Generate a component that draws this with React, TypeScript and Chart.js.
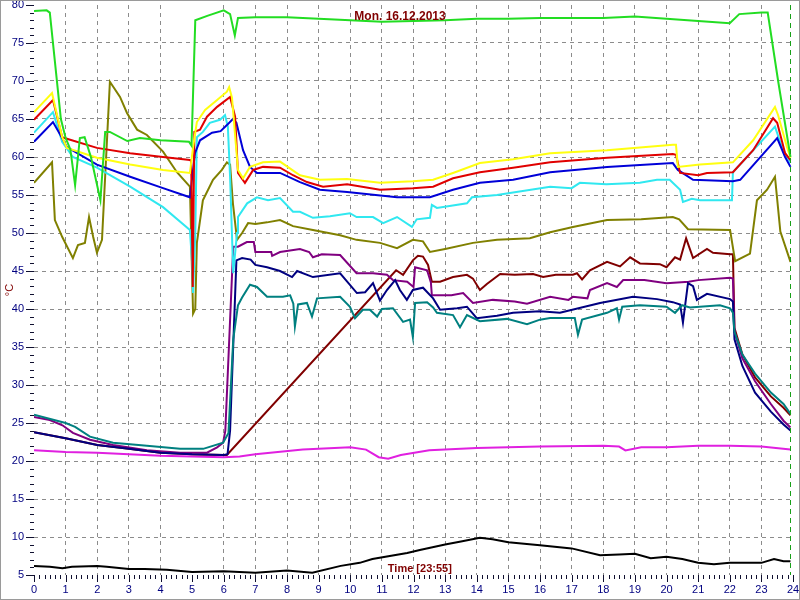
import React, { useEffect, useRef } from "react";
import { Chart, registerables } from "chart.js";

Chart.register(...registerables);

type P = [number, number];

const TITLE = "Mon. 16.12.2013";
const TIME_LABEL = "Time [23:55]";
const Y_LABEL = "°C";
const X_MIN = 0;
const X_MAX = 24;
const Y_MIN = 5;
const Y_MAX = 80;
const NOW_HOUR = 23.92;

const greenLine: P[] = [[0,79.2],[0.4,79.3],[0.5,79.0],[0.85,65],[1.0,62.5],[1.15,61],[1.3,56.3],[1.45,62.5],[1.6,62.6],[1.8,60],[2.1,54.3],[2.25,63.3],[2.4,63.3],[2.95,62.1],[3.35,62.5],[4.0,62.2],[4.9,62],[4.98,61.5],[5.1,78],[5.5,78.6],[6.0,79.3],[6.2,78.8],[6.35,76],[6.45,78.3],[7,78.4],[8,78.4],[9,78.2],[10,78],[11,77.8],[12,77.9],[13,78],[14,78.2],[15,78.2],[16,78.3],[17,78.3],[18,78.3],[19,78.5],[20,78.2],[21,77.9],[22,77.6],[22.3,78.8],[23,79],[23.2,79],[23.53,70],[23.92,60]];

const yellowLine: P[] = [[0,65.9],[0.57,68.4],[0.89,62.6],[1.04,61.2],[1.99,59.9],[3.04,59],[4.08,58.3],[4.93,57.9],[5.03,61.3],[5.15,64.6],[5.41,66.2],[5.79,67.5],[6.1,68.6],[6.17,69.2],[6.26,67.8],[6.45,58.3],[6.61,57.2],[6.83,58.7],[7.24,59.3],[7.78,59.4],[8.41,57.6],[9.04,57],[9.9,57.1],[10.94,56.6],[11.98,56.8],[12.62,57],[13.25,57.9],[14.1,59.2],[15.15,59.7],[16.32,60.5],[18.12,60.9],[20.2,61.6],[20.3,61.6],[20.36,58.7],[21.06,59],[22.1,59.3],[22.74,62.2],[23.43,66.6],[23.53,65.5],[23.81,61.3],[23.92,59.9]];

const redLine: P[] = [[0,64.9],[0.6,67.5],[0.89,62.6],[1.04,62.4],[1.99,61.2],[3.04,60.5],[4.08,60],[4.93,59.6],[4.97,59.5],[5.02,42.9],[5.07,63.3],[5.25,63.6],[5.47,65.3],[5.79,66.6],[6.2,67.9],[6.36,65.3],[6.45,57.9],[6.67,56.6],[6.93,58.3],[7.24,58.7],[7.78,58.6],[8.19,57.6],[8.63,56.7],[9.14,56.1],[9.9,56.4],[10.94,55.7],[11.98,55.9],[12.62,56.1],[13.25,57.2],[14.1,58],[15.15,58.6],[16.32,59.3],[18.12,59.9],[20.2,60.4],[20.3,60.3],[20.43,57.9],[21,57.6],[21.28,57.9],[22.1,58],[22.74,60.9],[23.37,65.1],[23.5,64.5],[23.75,60.5],[23.92,59.6]];

const cyanLine: P[] = [[0,63.2],[0.6,65.9],[0.89,62],[1.23,60],[1.99,58.6],[3.04,56.1],[4.08,53.4],[4.93,50.4],[5.0,46],[5.03,42.1],[5.1,50],[5.15,62.6],[5.34,63.3],[5.56,64.5],[5.88,64.9],[6.04,65.5],[6.13,64],[6.2,57.4],[6.3,44.7],[6.42,50],[6.45,52.1],[6.74,53.9],[7.05,54.7],[7.4,54.3],[7.78,54.6],[8.19,52.8],[8.41,52.8],[8.82,52],[9.36,52.2],[9.99,52.6],[10.2,52.1],[10.72,52.1],[11.04,51.3],[11.48,52.1],[11.95,50.8],[12.1,51.8],[12.52,52],[12.58,53.7],[12.74,53.3],[13.69,53.9],[13.85,54.7],[14.64,55],[16.32,56.1],[17.0,55.9],[17.26,56.6],[18.1,56.4],[19.16,56.6],[19.7,57],[20.1,57],[20.43,55.7],[20.52,54.1],[20.8,54.5],[21.06,54.3],[22.07,54.3],[22.1,58],[23.43,64],[23.65,61.3],[23.92,59.2]];

const blueLine: P[] = [[0,62],[0.6,64.6],[0.89,62.5],[1.04,61.3],[1.99,59],[3.04,57.4],[4.08,55.9],[4.93,54.7],[5.09,60.5],[5.25,62.2],[5.63,63.2],[5.9,63.4],[6.1,64.2],[6.29,65],[6.4,64.5],[6.61,60.9],[6.83,58.7],[7.05,57.9],[7.78,57.9],[8.41,56.7],[9.04,55.7],[9.9,55.4],[11.48,54.7],[12.52,54.7],[13.25,55.7],[14.1,56.6],[15.15,57],[16.32,58],[18.12,58.7],[20.2,59.2],[20.36,58.3],[20.84,57],[22.1,56.8],[22.33,57],[23.5,62.5],[23.75,60],[23.92,58.7]];

const oliveLine: P[] = [[0,56.6],[0.57,59.3],[0.66,51.7],[0.89,49.5],[1.23,46.7],[1.39,48.4],[1.61,48.7],[1.74,52.1],[1.87,49.5],[1.99,47.4],[2.15,49.1],[2.4,69.9],[2.72,67.9],[2.94,65.8],[3.26,63.6],[3.57,62.9],[4.08,60.7],[4.52,58],[4.93,56.1],[5.03,39.4],[5.1,40],[5.15,48.7],[5.34,54.3],[5.66,57],[5.94,58.3],[6.1,59.3],[6.2,59],[6.29,53.9],[6.42,49.1],[6.58,50],[6.77,51.3],[7.0,51.2],[7.37,51.4],[7.78,51.7],[8.19,50.9],[8.82,50.4],[9.68,49.7],[10.2,49.1],[10.94,48.7],[11.48,48],[11.98,49.1],[12.3,48.9],[12.52,47.5],[13.0,47.9],[13.88,48.7],[14.64,49.1],[15.68,49.3],[16.32,50.1],[17.04,50.8],[18.12,51.7],[19.2,51.8],[20.2,52.1],[20.4,51.8],[20.68,50.5],[22.01,50.4],[22.17,46.3],[22.64,47.3],[22.86,54.3],[23.18,55.7],[23.43,57.4],[23.6,50.2],[23.92,46.2]];

const tealLine: P[] = [[0,26.1],[1,25],[1.3,24.5],[1.77,23.2],[2.5,22.4],[3.57,22],[4.62,21.6],[5.35,21.6],[5.98,22.4],[6.15,23.7],[6.3,36],[6.45,40.5],[6.58,41.5],[6.83,43.2],[7.05,42.9],[7.37,41.6],[7.87,41.6],[8.1,41.8],[8.2,40.7],[8.25,37.7],[8.35,40.6],[8.63,40.8],[8.79,39],[8.95,41.4],[9.68,41.6],[9.99,40.3],[10.15,38.8],[10.4,39.9],[10.62,39.9],[10.85,39],[11.0,40],[11.35,40.1],[11.67,38.3],[11.89,38.6],[11.98,36.3],[12.05,40.8],[12.43,40.9],[12.62,40.2],[12.74,39.5],[13.25,39.2],[13.47,37.6],[13.69,39.2],[14.1,38.4],[14.96,38.7],[15.59,38],[16.0,38.6],[16.32,38.8],[17.1,38.8],[17.2,36.6],[17.33,38.6],[18.12,39.5],[18.43,40.1],[18.5,38.6],[18.6,40.3],[19.16,40.5],[20.0,40.3],[20.27,39.5],[20.49,40.5],[20.74,40.2],[21.69,40.5],[22.01,40.1],[22.1,39.5],[22.15,37],[22.4,34],[22.8,31.5],[23.3,29],[23.7,27.5],[23.92,26.2]];

const navyLine: P[] = [[0,23.8],[1,23],[2,22.1],[3,21.6],[4,21.1],[5,20.9],[6.0,20.8],[6.12,20.9],[6.2,24],[6.4,46.4],[6.58,46.7],[6.85,46.5],[7.0,45.8],[7.37,45.5],[7.78,45],[8.16,44.2],[8.32,45],[8.82,44.2],[9.68,44.7],[10.21,42.1],[10.47,42.2],[10.72,43.4],[10.94,41.1],[11.16,42.5],[11.42,43.8],[11.57,42.5],[11.79,41.2],[11.98,42.5],[12.3,42.8],[12.62,41.4],[12.84,39.9],[13.38,40.1],[13.69,40.3],[14.0,38.8],[14.64,39.1],[15.15,39.5],[16.0,39.7],[16.63,39.5],[17.9,40.8],[18.94,41.6],[19.7,41.3],[20.2,40.9],[20.43,40.6],[20.52,38.2],[20.59,40.5],[20.68,43.4],[20.84,43],[20.96,41.2],[21.28,42],[22.01,41.3],[22.1,41],[22.15,36],[22.4,32.5],[22.8,29],[23.3,26.5],[23.7,24.8],[23.92,24]];

const purpleLine: P[] = [[0,25.8],[0.5,25.4],[0.9,24.7],[1.23,23.7],[1.77,22.8],[2.5,22.1],[3.57,21.4],[4.62,21.1],[5.47,21.1],[5.79,21.8],[5.98,22.4],[6.05,24],[6.3,48.2],[6.45,48.2],[6.73,48.8],[6.95,48.8],[7.0,47.5],[7.5,47.5],[7.53,47],[7.78,47.5],[8.41,47.9],[8.7,47.5],[8.82,46.8],[9.1,47.2],[9.68,47.1],[10.2,44.7],[10.72,44.7],[11.16,44.5],[11.35,43.8],[11.8,43.6],[12.0,42.9],[12.05,45.5],[12.43,45.1],[12.55,43.5],[12.58,41.8],[13.2,41.8],[13.57,42.1],[13.88,40.8],[14.51,41.2],[15.2,41],[15.59,40.7],[16.32,41.6],[16.9,41.2],[17.04,41.6],[17.5,41.4],[17.58,42.5],[18.12,43.4],[18.43,42.9],[18.63,43.8],[19.3,43.8],[20.0,43.4],[20.7,43.6],[21.0,43.8],[22.01,44.1],[22.1,44],[22.15,37],[22.4,33.5],[22.8,30.5],[23.3,27.5],[23.7,25.3],[23.92,24.4]];

const maroonLine: P[] = [[0,23.8],[1,23],[2,22.1],[3,21.6],[4,21.1],[5,20.9],[6.0,20.8],[6.1,20.8],[11.45,45.1],[11.67,44.5],[11.98,46.4],[12.14,47],[12.3,46.9],[12.46,45.8],[12.58,43.6],[12.84,43.6],[13.25,44.2],[13.69,44.5],[13.88,44],[14.1,42.5],[14.32,43.3],[14.74,44.6],[15.2,44.5],[15.78,44.6],[16.1,44.2],[16.5,44.5],[17.04,44.5],[17.17,44.7],[17.33,43.9],[17.58,45.1],[18.12,46.2],[18.53,45.6],[18.85,46.8],[19.16,46],[19.79,45.9],[20.0,45.5],[20.27,46.8],[20.43,46.5],[20.62,49.3],[20.84,46.7],[21.28,47.9],[21.47,47.4],[22.01,47.2],[22.1,47.2],[22.15,37.5],[22.4,34],[22.8,31],[23.3,28.5],[23.7,27],[23.92,26]];

const magentaLine: P[] = [[0,21.4],[1,21.2],[2,21.1],[3,20.9],[4,20.7],[5,20.6],[6,20.5],[6.5,20.6],[7,20.9],[8.5,21.5],[10,21.8],[10.5,21.5],[10.9,20.5],[11.2,20.3],[11.6,20.8],[12.5,21.4],[14,21.7],[16,21.9],[18,22],[18.5,21.9],[18.7,21.4],[19.2,21.8],[20,21.8],[21,22],[22,22],[23,21.9],[23.92,21.5]];

const blackLine: P[] = [[0,6.2],[0.5,6.1],[0.9,5.9],[1.2,6.1],[2,6.2],[2.3,6.1],[3,5.8],[3.5,5.8],[4.2,5.7],[5,5.4],[6,5.5],[7,5.3],[8,5.6],[8.8,5.3],[9.7,6.2],[10.3,6.6],[10.7,7.1],[11.8,7.9],[12.2,8.3],[13,9],[13.5,9.4],[14.1,9.9],[14.5,9.7],[15,9.3],[16,8.9],[17,8.5],[17.9,7.6],[18.5,7.7],[19,7.8],[19.5,7.2],[20,7.4],[20.5,7.1],[21,6.6],[21.5,6.4],[22,6.6],[23,6.6],[23.4,7.1],[23.7,6.8],[23.92,6.8]];

// drawing order: first entry is drawn on top
const SERIES: { data: P[]; color: string }[] = [
  { data: greenLine, color: "#22dd22" },
  { data: yellowLine, color: "#ffff10" },
  { data: redLine, color: "#e00000" },
  { data: blueLine, color: "#0000d8" },
  { data: cyanLine, color: "#30e8f0" },
  { data: oliveLine, color: "#808000" },
  { data: tealLine, color: "#008080" },
  { data: navyLine, color: "#000080" },
  { data: purpleLine, color: "#800080" },
  { data: maroonLine, color: "#800000" },
  { data: magentaLine, color: "#e020e0" },
  { data: blackLine, color: "#000000" },
];

const decorPlugin = {
  id: "decor",
  afterDraw(chart: any) {
    const { ctx, chartArea, scales } = chart;
    const xs = scales.x;
    const ys = scales.y;
    ctx.save();
    // current time marker
    const nx = Math.round(xs.getPixelForValue(NOW_HOUR)) + 0.5;
    ctx.strokeStyle = "#18a018";
    ctx.lineWidth = 1;
    ctx.setLineDash([5, 4]);
    ctx.beginPath();
    ctx.moveTo(nx, chartArea.top);
    ctx.lineTo(nx, chartArea.bottom);
    ctx.stroke();
    ctx.setLineDash([]);
    // tick marks
    ctx.strokeStyle = "#101030";
    ctx.beginPath();
    for (let v = Y_MIN; v <= Y_MAX; v++) {
      const y = Math.round(ys.getPixelForValue(v)) + 0.5;
      const len = v % 5 === 0 ? 8 : 4;
      ctx.moveTo(chartArea.left - len, y);
      ctx.lineTo(chartArea.left, y);
    }
    for (let m = X_MIN * 6; m <= X_MAX * 6; m++) {
      const x = Math.round(xs.getPixelForValue(m / 6)) + 0.5;
      const len = m % 6 === 0 ? 7 : 4;
      ctx.moveTo(x, chartArea.bottom);
      ctx.lineTo(x, chartArea.bottom + len);
    }
    ctx.stroke();
    // texts
    ctx.fillStyle = "#800000";
    ctx.font = "bold 12px 'Liberation Sans', Arial, sans-serif";
    ctx.textAlign = "center";
    ctx.textBaseline = "middle";
    ctx.fillText(TITLE, 400, 17);
    ctx.font = "bold 11px 'Liberation Sans', Arial, sans-serif";
    ctx.fillText(TIME_LABEL, xs.getPixelForValue(12.2), chartArea.bottom - 6);
    ctx.font = "11px 'Liberation Sans', Arial, sans-serif";
    ctx.translate(10, (chartArea.top + chartArea.bottom) / 2);
    ctx.rotate(-Math.PI / 2);
    ctx.fillText(Y_LABEL, 0, 0);
    ctx.restore();
    // frame
    ctx.save();
    ctx.strokeStyle = "#9a9a9a";
    ctx.lineWidth = 1;
    ctx.strokeRect(0.5, 0.5, chart.width - 1, chart.height - 1);
    ctx.restore();
  },
};

export default function App() {
  const canvasRef = useRef<HTMLCanvasElement | null>(null);

  useEffect(() => {
    if (!canvasRef.current) return;
    const gridColor = (c: any) =>
      c.tick && (c.tick.value === X_MIN || c.tick.value === X_MAX || c.tick.value === Y_MIN || c.tick.value === Y_MAX)
        ? "rgba(0,0,0,0)"
        : "#8c8c8c";
    const chart = new Chart(canvasRef.current, {
      type: "line",
      data: {
        datasets: SERIES.map((s) => ({
          data: s.data.map(([x, y]) => ({ x, y })),
          borderColor: s.color,
          backgroundColor: s.color,
          borderWidth: 2,
          pointRadius: 0,
          tension: 0,
          fill: false,
        })),
      },
      options: {
        responsive: false,
        animation: false,
        events: [],
        layout: { padding: { top: 5, right: 7, left: 0, bottom: 0 } },
        plugins: { legend: { display: false }, tooltip: { enabled: false }, title: { display: false } },
        scales: {
          x: {
            type: "linear",
            min: X_MIN,
            max: X_MAX,
            ticks: {
              stepSize: 1,
              autoSkip: false,
              maxRotation: 0,
              padding: 8,
              color: "#000080",
              font: { family: "'Liberation Sans', Arial, sans-serif", size: 11 },
            },
            grid: { color: gridColor, drawTicks: false, lineWidth: 1 },
            border: { display: false, dash: [4, 4] },
            afterFit: (s: any) => {
              s.height = 25;
              s.paddingLeft = 0;
              s.paddingRight = 0;
            },
          },
          y: {
            type: "linear",
            min: Y_MIN,
            max: Y_MAX,
            ticks: {
              stepSize: 5,
              padding: 10,
              color: "#000080",
              font: { family: "'Liberation Sans', Arial, sans-serif", size: 11 },
            },
            grid: { color: gridColor, drawTicks: false, lineWidth: 1 },
            border: { display: false, dash: [4, 4] },
            afterFit: (s: any) => {
              s.width = 34;
              s.paddingTop = 0;
              s.paddingBottom = 0;
            },
          },
        },
      },
      plugins: [decorPlugin],
    } as any);
    return () => chart.destroy();
  }, []);

  return (
    <div style={{ position: "absolute", left: 0, top: 0, width: 800, height: 600, background: "#ffffff" }}>
      <canvas ref={canvasRef} width={800} height={600} style={{ display: "block" }} />
    </div>
  );
}
